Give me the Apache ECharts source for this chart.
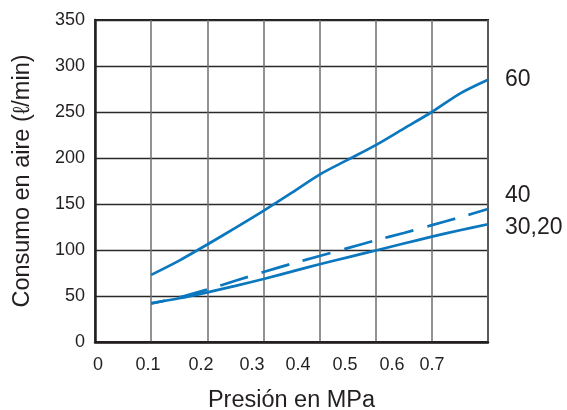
<!DOCTYPE html>
<html>
<head>
<meta charset="utf-8">
<script src="https://cdn.jsdelivr.net/npm/echarts@6/dist/echarts.min.js"></script>
<style>
html,body{margin:0;padding:0;background:#fff;}
#chart{width:567px;height:410px;}
</style>
</head>
<body>
<div id="chart"></div>
<script>
// x positions of the curves, in units of the chart's grid (each grid column = 0.1)
const pressure = [0.10, 0.15, 0.20, 0.25, 0.30, 0.35, 0.40, 0.45, 0.50, 0.55, 0.60, 0.65, 0.70];
const consumo60 = [73, 88.5, 106, 124, 142.5, 162, 182, 198, 214, 232, 250, 270, 285];
const consumo40 = [42, 48.5, 57, 66.5, 76, 85, 93.5, 102, 110.5, 118.5, 127, 135.5, 144.5];
const consumo30_20 = [42, 47.5, 54, 61, 68.5, 76.5, 84.5, 92, 99.5, 107, 114.5, 121.5, 128];
const seriesNames = ['60', '40', '30,20'];
// x tick labels as printed, and where they sit along the axis
const xTickLabels = ['0', '0.1', '0.2', '0.3', '0.4', '0.5', '0.6', '0.7'];
const xTickAt = [0.0053, 0.0944, 0.1888, 0.2796, 0.3616, 0.4453, 0.5290, 0.6003];
const yTicks = [0, 50, 100, 150, 200, 250, 300, 350];

const FONT = '"Liberation Sans", Arial, sans-serif';
const TXT = '#231f20';
const BLUE = '#0a77bf';

const pairs = arr => pressure.map((p, i) => [p, arr[i]]);

const chart = echarts.init(document.getElementById('chart'), null, {renderer: 'canvas'});
chart.setOption({
  animation: false,
  backgroundColor: '#fff',
  textStyle: {fontFamily: FONT, color: TXT},
  grid: {left: 95, top: 20, width: 393, height: 322, show: true, borderColor: TXT, borderWidth: 2,
         backgroundColor: 'transparent', containLabel: false, outerBoundsMode: 'none'},
  xAxis: {
    type: 'value', min: 0, max: 0.7, interval: 0.1,
    name: 'Presión en MPa', nameLocation: 'middle', nameGap: 47,
    nameTextStyle: {fontSize: 23.5, color: TXT, fontFamily: FONT},
    axisLine: {show: true, lineStyle: {color: TXT, width: 2.5}},
    axisTick: {show: false},
    splitLine: {show: true, lineStyle: {color: '#6d6e71', width: 1.5}},
    axisLabel: {
      customValues: xTickAt,
      fontSize: 18, color: TXT, fontFamily: FONT, margin: 14,
      formatter: function (v) {
        let best = 0, d = Infinity;
        xTickAt.forEach((t, i) => { const dd = Math.abs(t - v); if (dd < d) { d = dd; best = i; } });
        return xTickLabels[best];
      }
    }
  },
  yAxis: {
    type: 'value', min: yTicks[0], max: yTicks[yTicks.length - 1], interval: 50,
    name: 'Consumo en aire (ℓ/min)', nameLocation: 'middle', nameGap: 60,
    nameTextStyle: {fontSize: 23.5, color: TXT, fontFamily: FONT},
    axisLine: {show: true, lineStyle: {color: TXT, width: 2.5}},
    axisTick: {show: false},
    splitLine: {show: true, lineStyle: {color: '#2b2829', width: 1.3}},
    axisLabel: {fontSize: 18, color: TXT, fontFamily: FONT, margin: 10}
  },
  series: [
    {
      name: seriesNames[0], type: 'line', data: pairs(consumo60), smooth: 0.3,
      symbol: 'none', lineStyle: {color: BLUE, width: 2.7},
      endLabel: {show: true, formatter: '{a}', fontSize: 23, color: TXT, fontFamily: FONT, distance: 17, offset: [0, 0]}
    },
    {
      name: seriesNames[1], type: 'line', data: pairs(consumo40), smooth: 0.3,
      symbol: 'none', lineStyle: {color: BLUE, width: 2.7, type: [29, 14], dashOffset: 14.5},
      endLabel: {show: true, formatter: '{a}', fontSize: 23, color: TXT, fontFamily: FONT, distance: 17, offset: [0, -13]}
    },
    {
      name: seriesNames[2], type: 'line', data: pairs(consumo30_20), smooth: 0.3,
      symbol: 'none', lineStyle: {color: BLUE, width: 2.7},
      endLabel: {show: true, formatter: '{a}', fontSize: 23, color: TXT, fontFamily: FONT, distance: 17, offset: [0, 3]}
    }
  ]
});
</script>
</body>
</html>
